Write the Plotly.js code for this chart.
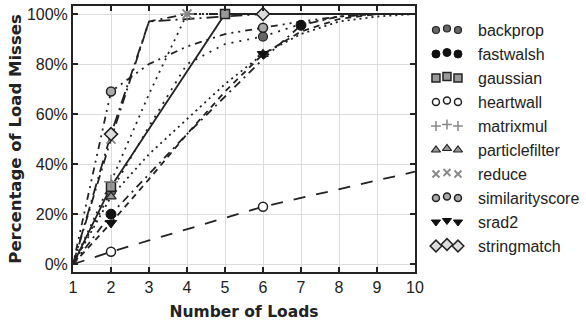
<!DOCTYPE html>
<html>
<head>
<meta charset="utf-8">
<script src="https://cdn.plot.ly/plotly-3.0.1.min.js"></script>
<style>
  html, body { margin: 0; padding: 0; background: #fff; }
  #chart { width: 586px; height: 321px; }
</style>
</head>
<body>
<div id="chart"></div>
<script>
// ---- data ----
const loads = [1, 2, 3, 4, 5, 6, 7, 8, 9, 10];
const seriesNames = ["backprop", "fastwalsh", "gaussian", "heartwall", "matrixmul",
  "particlefilter", "reduce", "similarityscore", "srad2", "stringmatch"];
const backprop        = [0, 29, 55, 80, 88, 91, 96, 99, 100, 100];
const fastwalsh       = [0, 20, 36, 52, 67, 82, 95.5, 99, 100, 100];
const gaussian        = [0, 31, 54, 77, 100, 100, 100, 100, 100, 100];
const heartwall       = [0, 5, 9.5, 14, 18.5, 23, 26.5, 30, 33.5, 37];
const matrixmul       = [0, 33, 68, 100, 100, 100, 100, 100, 100, 100];
const particlefilter  = [0, 27, 44, 58, 72, 84, 92, 97, 99, 100];
const reduce          = [0, 50, 97, 100, 100, 100, 100, 100, 100, 100];
const similarityscore = [0, 69, 80, 87, 92, 94.5, 97, 99, 100, 100];
const srad2           = [0, 16.5, 34, 52, 69, 84, 93, 98, 100, 100];
const stringmatch     = [0, 52, 97, 98, 99, 100, 100, 100, 100, 100];
// loads at which each series shows its marker
const markerLoads = [[2, 6], [2, 7], [2, 5], [2, 6], [2, 4], [2, 6], [2, 4], [2, 6], [2, 6], [2, 6]];
const yTickVals = [0, 20, 40, 60, 80, 100];
const yTickText = ["0%", "20%", "40%", "60%", "80%", "100%"];

// ---- styles ----
const allValues = [backprop, fastwalsh, gaussian, heartwall, matrixmul,
  particlefilter, reduce, similarityscore, srad2, stringmatch];
const ink = "#222";
const styles = [
  {dash: "2px,6px",            sym: "circle",        fill: "#666", line: ink,    lw: 1.2, size: 9,  lsize: 7},
  {dash: "8px,5px,2px,5px",    sym: "circle",        fill: "#111", line: "#111", lw: 1,   size: 10, lsize: 8},
  {dash: "solid",              sym: "square",        fill: "#999", line: ink,    lw: 1.5, size: 9,  lsize: 8},
  {dash: "12px,11px",          sym: "circle",        fill: "#fff", line: ink,    lw: 1.5, size: 9,  lsize: 7},
  {dash: "2px,5px",            sym: "cross-thin",    fill: "#888", line: "#888", lw: 1.5, size: 10, lsize: 7},
  {dash: "2px,4px",            sym: "triangle-up",   fill: "#999", line: ink,    lw: 1.2, size: 9,  lsize: 8},
  {dash: "9px,5px,2px,5px",    sym: "x-thin",        fill: "#888", line: "#888", lw: 1.8, size: 9,  lsize: 7},
  {dash: "2px,5px,2px,5px,7px,5px", sym: "circle",   fill: "#aaa", line: ink,    lw: 1.5, size: 9,  lsize: 7},
  {dash: "6px,5px",            sym: "triangle-down", fill: "#111", line: "#111", lw: 1,   size: 10, lsize: 8},
  {dash: "12px,5px,2px,5px",   sym: "diamond",       fill: "#ddd", line: ink,    lw: 1.5, size: 10, lsize: 9}
];

const traces = [];
// lines
allValues.forEach((vals, i) => {
  traces.push({
    x: loads, y: vals, type: "scatter", mode: "lines", showlegend: false,
    line: {color: ink, width: 1.8, dash: styles[i].dash}, cliponaxis: false, hoverinfo: "skip"
  });
});
// markers
allValues.forEach((vals, i) => {
  const mx = [], my = [];
  loads.forEach((l, k) => { if (markerLoads[i].includes(l)) { mx.push(l); my.push(vals[k]); } });
  const s = styles[i];
  traces.push({
    x: mx, y: my, type: "scatter", mode: "markers", showlegend: false, cliponaxis: false,
    marker: {symbol: s.sym, size: s.size, color: s.fill, line: {color: s.line, width: s.lw}}
  });
});
// custom legend: three markers per entry, middle one raised
const legTop = 30, legStep = 24;
const legX = [436, 447, 458];
seriesNames.forEach((name, i) => {
  const s = styles[i];
  const yc = legTop + i * legStep;
  traces.push({
    x: legX, y: [yc, yc - 1.5, yc], xaxis: "x2", yaxis: "y2", type: "scatter", mode: "markers",
    showlegend: false, cliponaxis: false, hoverinfo: "skip",
    marker: {symbol: s.sym, size: s.lsize, color: s.fill, line: {color: s.line, width: s.lw}}
  });
});
const annotations = seriesNames.map((name, i) => ({
  x: 476, y: legTop + i * legStep, xref: "x2", yref: "y2", text: name, showarrow: false,
  xanchor: "left", yanchor: "middle", font: {family: "Liberation Sans, Arial, sans-serif", size: 16, color: ink}
}));

const plotRight = 415, plotLeft = 73, W = 586;
const mainFrac = (plotRight - plotLeft) / (W - plotLeft);
const layout = {
  width: 586, height: 321,
  margin: {l: plotLeft, r: 0, t: 6, b: 49},
  paper_bgcolor: "#fff", plot_bgcolor: "#fff",
  showlegend: false,
  font: {family: "Liberation Sans, Arial, sans-serif", size: 16, color: ink},
  xaxis: {
    domain: [0, mainFrac], range: [1, 10], tickvals: loads, ticktext: loads.map(String),
    showline: true, linecolor: ink, linewidth: 2, mirror: "ticks",
    ticks: "inside", ticklen: 5, tickwidth: 1.5, tickcolor: ink,
    showgrid: true, gridcolor: "#dcdcdc", gridwidth: 1, zeroline: false,
    tickfont: {size: 16, color: ink},
    title: {text: "Number of Loads", standoff: 13,
      font: {family: "DejaVu Sans, sans-serif", size: 15.5, color: ink, weight: "bold"}}
  },
  yaxis: {
    range: [-3.1, 103.2], tickvals: yTickVals, ticktext: yTickText,
    showline: true, linecolor: ink, linewidth: 2, mirror: "ticks",
    ticks: "inside", ticklen: 5, tickwidth: 1.5, tickcolor: ink,
    showgrid: true, gridcolor: "#dcdcdc", gridwidth: 1, zeroline: false,
    tickfont: {size: 16, color: ink},
    title: {text: "Percentage of Load Misses", standoff: 1,
      font: {family: "DejaVu Sans, sans-serif", size: 16.5, color: ink, weight: "bold"}}
  },
  xaxis2: {domain: [mainFrac + 0.005, 1], range: [plotRight + 2.6, W], anchor: "y2",
    visible: false, fixedrange: true},
  yaxis2: {domain: [0, 1], range: [321 - 49, 6], anchor: "x2", visible: false, fixedrange: true},
  annotations: annotations
};

Plotly.newPlot("chart", traces, layout, {displayModeBar: false, staticPlot: true});
</script>
</body>
</html>
